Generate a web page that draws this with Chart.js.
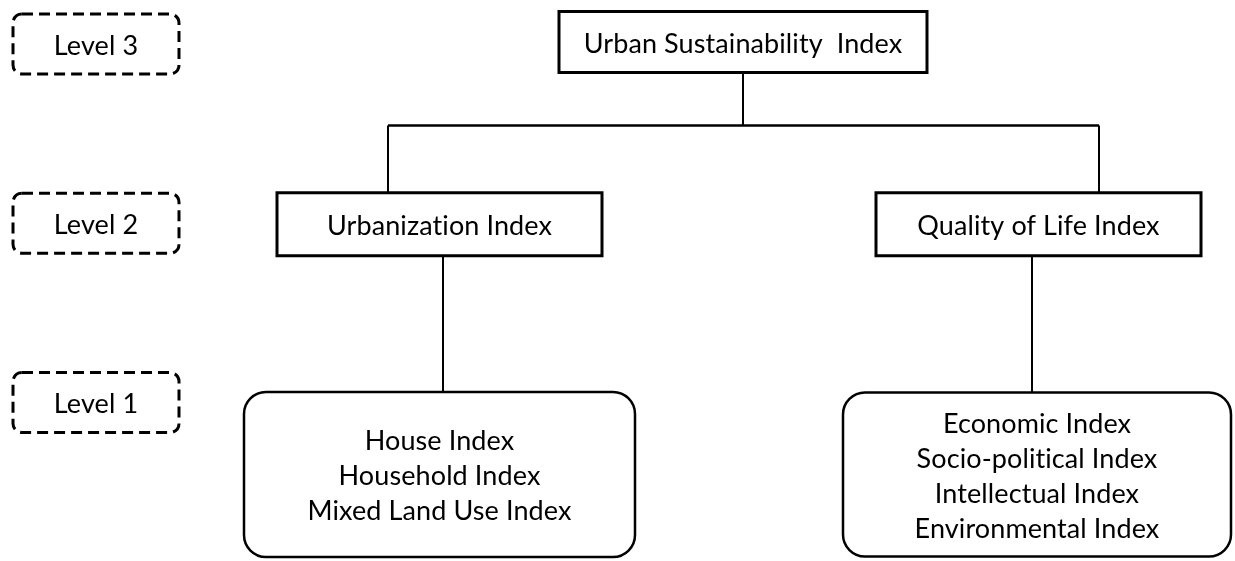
<!DOCTYPE html>
<html>
<head>
<meta charset="utf-8">
<title>Urban Sustainability Index hierarchy</title>
<script src="https://cdn.jsdelivr.net/npm/chart.js@4.4.1/dist/chart.umd.min.js"></script>
<style>
  html, body { margin: 0; padding: 0; background: #fff; }
  #wrap { width: 1235px; height: 561px; }
</style>
</head>
<body>
<div id="wrap"><canvas id="tree"></canvas></div>
<script>
// hierarchy data
const levelLabels = ['Level 3', 'Level 2', 'Level 1'];
const levelValues = [3, 2, 1];

const nodeLabels = [
    ['Urban Sustainability  Index'],
    ['Urbanization Index'],
    ['Quality of Life Index'],
    ['House Index', 'Household Index', 'Mixed Land Use Index'],
    ['Economic Index', 'Socio-political Index', 'Intellectual Index', 'Environmental Index']
];
const nodeLevels = [3, 2, 2, 1, 1];
const nodeParents = [-1, 0, 0, 1, 2];

// layout (pixels on the x scale, offsets in pixels)
const layout = {
    levelX: 96, levelW: 166, levelH: 60,
    nodeX: [743, 439.5, 1038.5, 439.5, 1037],
    nodeW: [368, 325, 325, 391, 388],
    nodeH: [61, 63, 63, 165, 164],
    nodeDy: [-2, 1, 1, 72, 72],
    nodeRound: [0, 0, 0, 22, 22],
    linkX: [null, 388, 1099, 443, 1032],
    busGap: 53,
    font: '27px Lato',
    lineH: 35,
    textDy: 2
};

function roundRect(ctx, x, y, w, h, r) {
    ctx.beginPath();
    ctx.moveTo(x + r, y);
    ctx.lineTo(x + w - r, y);
    ctx.arcTo(x + w, y, x + w, y + r, r);
    ctx.lineTo(x + w, y + h - r);
    ctx.arcTo(x + w, y + h, x + w - r, y + h, r);
    ctx.lineTo(x + r, y + h);
    ctx.arcTo(x, y + h, x, y + h - r, r);
    ctx.lineTo(x, y + r);
    ctx.arcTo(x, y, x + r, y, r);
    ctx.closePath();
}

function drawText(ctx, lines, cx, cy) {
    ctx.fillStyle = '#000';
    ctx.font = layout.font;
    ctx.letterSpacing = '0.1px'; // keeps Lato from joining "ti"
    ctx.textAlign = 'center';
    ctx.textBaseline = 'middle';
    let y0 = cy + layout.textDy - (lines.length - 1) * layout.lineH / 2;
    lines.forEach((t, i) => ctx.fillText(t, cx, y0 + i * layout.lineH));
}

const treePlugin = {
    id: 'tree',
    afterDatasetsDraw(chart) {
        const ctx = chart.ctx;
        const levels = chart.getDatasetMeta(0).data;
        const nodes = chart.getDatasetMeta(1).data;
        ctx.save();

        // dashed level boxes
        levels.forEach((p, i) => {
            ctx.setLineDash([11, 6]);
            ctx.lineWidth = 3;
            ctx.strokeStyle = '#000';
            roundRect(ctx, p.x - layout.levelW / 2, p.y - layout.levelH / 2, layout.levelW, layout.levelH, 9);
            ctx.stroke();
            ctx.setLineDash([]);
            drawText(ctx, [levelLabels[i]], p.x, p.y);
        });

        // box geometry
        const box = nodes.map((p, i) => {
            const cy = p.y + layout.nodeDy[i];
            return { x: p.x - layout.nodeW[i] / 2, y: cy - layout.nodeH[i] / 2,
                     w: layout.nodeW[i], h: layout.nodeH[i], cx: p.x, cy: cy };
        });

        // connectors
        ctx.strokeStyle = '#000';
        ctx.lineWidth = 2;
        nodeParents.forEach((par, i) => {
            if (par < 0) return;
            const kids = nodeParents.map((q, k) => q === par ? k : -1).filter(k => k >= 0);
            const pb = box[par].y + box[par].h;
            const top = box[i].y;
            ctx.beginPath();
            if (kids.length > 1) {
                const busY = pb + layout.busGap;
                const xs = kids.map(k => layout.linkX[k]);
                ctx.moveTo(box[par].cx, pb);
                ctx.lineTo(box[par].cx, busY);
                ctx.moveTo(Math.min(...xs), busY);
                ctx.lineTo(Math.max(...xs), busY);
                ctx.moveTo(layout.linkX[i], busY);
                ctx.lineTo(layout.linkX[i], top);
            } else {
                ctx.moveTo(layout.linkX[i], pb);
                ctx.lineTo(layout.linkX[i], top);
            }
            ctx.stroke();
        });

        // node boxes
        box.forEach((b, i) => {
            ctx.fillStyle = '#fff';
            ctx.strokeStyle = '#000';
            if (layout.nodeRound[i] > 0) {
                ctx.lineWidth = 2.5;
                roundRect(ctx, b.x, b.y, b.w, b.h, layout.nodeRound[i]);
            } else {
                ctx.lineWidth = 3;
                ctx.beginPath();
                ctx.rect(b.x, b.y, b.w, b.h);
            }
            ctx.fill();
            ctx.stroke();
            drawText(ctx, nodeLabels[i], b.cx, b.cy);
        });

        ctx.restore();
    }
};

new Chart(document.getElementById('tree'), {
    type: 'scatter',
    data: {
        datasets: [
            { label: 'levels', data: levelValues.map(v => ({ x: layout.levelX, y: v })), pointRadius: 0 },
            { label: 'nodes', data: nodeLevels.map((v, i) => ({ x: layout.nodeX[i], y: v })), pointRadius: 0 }
        ]
    },
    options: {
        responsive: true,
        maintainAspectRatio: false,
        animation: false,
        layout: { padding: 0 },
        plugins: { legend: { display: false }, tooltip: { enabled: false } },
        scales: {
            x: { type: 'linear', min: 0, max: 1235, display: false },
            y: { type: 'linear', min: 0.1157, max: 3.2455, display: false }
        }
    },
    plugins: [treePlugin]
});
</script>
</body>
</html>
